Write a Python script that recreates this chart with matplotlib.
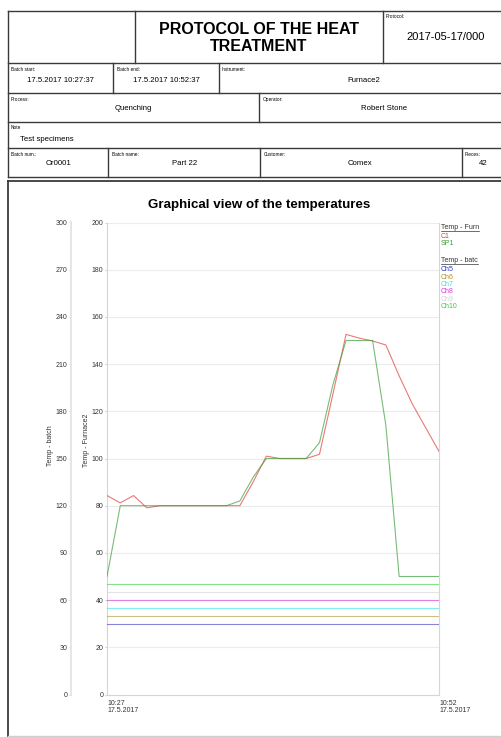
## heat treatment protocol sheet with temperature chart

import numpy as np
import pandas as pd
import matplotlib
matplotlib.use('Agg')
import matplotlib.pyplot as plt

plt.rcParams['font.family'] = ['Liberation Sans', 'DejaVu Sans']

## batch info
batch_start = '17.5.2017 10:27:37'
batch_end = '17.5.2017 10:52:37'
protocol_no = '2017-05-17/000'
instrument = 'Furnace2'
process = 'Quenching'
operator = 'Robert Stone'
note = 'Test specimens'
batch_num = 'Or0001'
batch_name = 'Part 22'
customer = 'Comex'
pieces = '42'

## furnace channels, one sample per minute
time = pd.date_range('2017-05-17 10:27:37', periods=26, freq='1min')
c1 = [84.3, 81.2, 84.3, 79.1, 80, 80, 80, 80, 80, 80, 80, 90, 101, 100, 100, 100,
      101.8, 127, 152.6, 151, 149.8, 148.1, 135, 123, 113, 103]
sp1 = [50, 80, 80, 80, 80, 80, 80, 80, 80, 80, 82, 92, 100, 100, 100, 100,
       106.7, 131, 150, 150, 150, 114, 50, 50, 50, 50]

## batch channels (constant readings)
batch_names = ['Ch5', 'Ch6', 'Ch7', 'Ch8', 'Ch9', 'Ch10']
batch_vals = [45, 50, 55, 60, 65, 70]
batch_cols = ['#3535c0', '#a89528', '#35e0e0', '#e035e0', '#d2d2d2', '#35d035']
furn_names = ['C1', 'SP1']
furn_cols = ['#e04040', '#3f9f3f']

W, H = 501, 737
fig = plt.figure(figsize=(W / 100, H / 100), dpi=100)

## background axes in pixel units for the header form
bg = fig.add_axes([0, 0, 1, 1])
bg.set_xlim(0, W)
bg.set_ylim(H, 0)
bg.axis('off')

lc = '#3a3a3a'
lw = 1.0
# horizontal rules
for y in [11, 63.3, 92.7, 121.7, 147.7, 176.7]:
    bg.plot([7.7, W], [y, y], color=lc, lw=lw)
bg.plot([7.7, 7.7], [11, 176.7], color=lc, lw=lw)
# vertical splits per row
splits = [(11, 63.3, [135, 383.3]),
          (63.3, 92.7, [113.3, 219]),
          (92.7, 121.7, [259]),
          (147.7, 176.7, [108.3, 260, 461.7])]
for y0, y1, xs in splits:
    for x in xs:
        bg.plot([x, x], [y0, y1], color=lc, lw=lw)

small = 3.4
val = 5.6
bg.text(259, 38, 'PROTOCOL OF THE HEAT\nTREATMENT', ha='center', va='center',
        fontsize=11.5, fontweight='bold', linespacing=1.1)
bg.text(385.7, 16, 'Protocol:', fontsize=small, va='center')
bg.text(446, 37.3, protocol_no, fontsize=8, ha='center', va='center')

fields = [(10.7, 69.3, 'Batch start:', 60.8, 80, batch_start),
          (116.7, 69.3, 'Batch end:', 166.3, 80, batch_end),
          (221.7, 69.3, 'Instrument:', 364.3, 80, instrument),
          (10.7, 99.3, 'Process:', 133.7, 108.3, process),
          (262.3, 99.3, 'Operator:', 384.2, 108.3, operator),
          (10.7, 154.3, 'Batch num.:', 59, 163.3, batch_num),
          (111.7, 154.3, 'Batch name:', 184.2, 163.3, batch_name),
          (263.3, 154.3, 'Customer:', 360, 163.3, customer),
          (464.3, 154.3, 'Pieces:', 483.7, 163.3, pieces)]
for lx, ly, lab, vx, vy, v in fields:
    bg.text(lx, ly, lab, fontsize=small, va='center')
    bg.text(vx, vy, v, fontsize=val, ha='center', va='center')
bg.text(10.7, 127.7, 'Note', fontsize=small, va='center')
bg.text(20, 139.3, note, fontsize=val, va='center')

## chart frame
bg.plot([8, W], [181, 181], color=lc, lw=1.3)
bg.plot([8, 8], [181, 735.7], color=lc, lw=1.3)
bg.plot([8, W], [735.7, 735.7], color='#cfcfcf', lw=1.0)

bg.text(259, 205, 'Graphical view of the temperatures', ha='center', va='center',
        fontsize=9.6, fontweight='bold')

## plot axes
ax = fig.add_axes([107 / W, (H - 694.5) / H, 332 / W, 472 / H])
ax.set_facecolor('none')
for i, (name, col) in enumerate(zip(furn_names, furn_cols)):
    ax.plot(time, [c1, sp1][i], color=col, lw=0.8, alpha=0.7, zorder=3)
ax.set_ylim(0, 200)
ax.set_yticks(np.arange(0, 201, 20))
ax.set_xlim(time[0], time[-1])
ax.set_xticks([time[0], time[-1]])
ax.set_xticklabels([f'{t:%H:%M}\n{t.day}.{t.month}.{t.year}' for t in [time[0], time[-1]]],
                   ha='left', fontsize=5, linespacing=0.95)
ax.grid(axis='y', color='#ececec', lw=0.8)
ax.tick_params(axis='y', labelsize=5, length=1.5, pad=1, colors='#d0d0d0', labelcolor='#333333')
ax.tick_params(axis='x', length=0, pad=4, labelcolor='#333333')
for s in ['left', 'right', 'bottom']:
    ax.spines[s].set_color('#d6d6d6')
    ax.spines[s].set_linewidth(0.8)
ax.spines['top'].set_visible(False)

## batch axis, offset to the left
ax2 = ax.twinx()
for name, v, col in zip(batch_names, batch_vals, batch_cols):
    ax2.plot([time[0], time[-1]], [v, v], color=col, lw=0.8, alpha=0.6, zorder=2)
ax2.set_ylim(0, 300)
ax2.set_yticks(np.arange(0, 301, 30))
ax2.yaxis.tick_left()
ax2.spines['left'].set_position(('outward', 26))
ax2.spines['left'].set_color('#e4e4e4')
ax2.spines['left'].set_linewidth(1.3)
for s in ['right', 'top', 'bottom']:
    ax2.spines[s].set_visible(False)
ax2.tick_params(axis='y', labelsize=5, length=1.5, pad=1, colors='#d0d0d0', labelcolor='#333333')

fig.text(51 / W, 1 - 446 / H, 'Temp - batch', rotation=90, fontsize=5,
         ha='center', va='center', color='#333333')
fig.text(87 / W, 1 - 440 / H, 'Temp - Furnace2', rotation=90, fontsize=5,
         ha='center', va='center', color='#333333')

## legend (text is clipped at the chart edge)
leg = [('Temp - Furn', '#333333', 227.3, True),
       ('C1', furn_cols[0], 236.7, False),
       ('SP1', furn_cols[1], 243.3, False),
       ('Temp - batc', '#333333', 260.7, True)]
ys = [269.3, 277, 284.3, 291.7, 299, 306.3]
leg += [(n, c, y, False) for n, c, y in zip(batch_names, batch_cols, ys)]
fig.canvas.draw()
for txt, col, y, und in leg:
    t = bg.text(441, y, txt, fontsize=5, color=col, va='center')
    if und:
        bb = t.get_window_extent(fig.canvas.get_renderer())
        bg.plot([441, 441 + bb.width], [y + 3.3, y + 3.3], color='#333333', lw=0.5)

fig.savefig('out.png', dpi=100)
